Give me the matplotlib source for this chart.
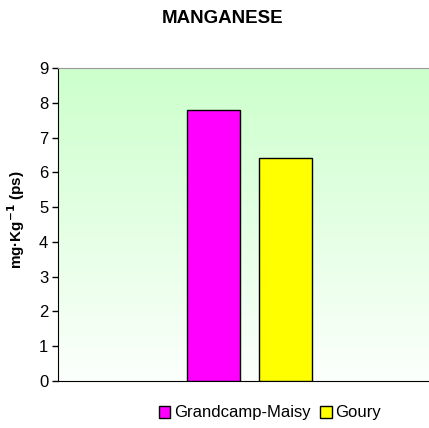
import matplotlib
matplotlib.use("Agg")
import matplotlib.pyplot as plt
import numpy as np
from matplotlib.patches import Patch

title = "MANGANESE"
ylabel = "mg·Kg$^{\\mathbf{-1}}$ (ps)"
series = ["Grandcamp-Maisy", "Goury"]
values = [7.8, 6.4]
colors = ["#FF00FF", "#FFFF00"]
yticks = list(range(0, 10))

plt.rcParams['font.family'] = ['Liberation Sans', 'DejaVu Sans']

W, H = 429, 428
fig = plt.figure(figsize=(W/100, H/100), dpi=100)
ax = fig.add_axes([58/W, (H-381)/H, (429-58)/W, (381-68)/H])

xlim = (-1.277, 1.197)
ylim = (0, 9)
# gradient background
grad = np.linspace(0, 1, 256).reshape(-1, 1)
top = np.array([204, 255, 204]) / 255
bot = np.array([252, 255, 252]) / 255
img = bot + (top - bot) * grad[..., None]
ax.imshow(img, extent=(xlim[0], xlim[1], ylim[0], ylim[1]), origin='lower',
          aspect='auto', zorder=0)

width = 0.35
gap = 0.127
offsets = [-(width + gap) / 2, (width + gap) / 2]
for off, v, c in zip(offsets, values, colors):
    ax.bar(off, v, width=width, color=c, edgecolor='black', linewidth=1, zorder=3)

ax.set_xlim(*xlim)
ax.set_ylim(*ylim)
ax.set_yticks(yticks)
ax.set_xticks([])
ax.tick_params(axis='y', direction='out', length=4, width=1, labelsize=12, pad=3)
ax.spines['right'].set_visible(False)
ax.spines['top'].set_color('#999999')
ax.spines['left'].set_color('black')
ax.spines['bottom'].set_color('black')

ax.set_ylabel(ylabel, fontsize=11, fontweight='bold')
ax.yaxis.set_label_coords((27 - 58) / (429 - 58), (381 - 220) / (381 - 68))
fig.text(223/W, 1 - 18.5/H, title, ha='center', va='center', fontsize=13.5, fontweight='bold')

handles = [Patch(facecolor=c, edgecolor='black', linewidth=1) for c in colors]
fig.legend(handles, series, loc='center', bbox_to_anchor=(270/W, 1 - 413/H), ncol=2,
           frameon=False, fontsize=12, handlelength=0.7, handleheight=0.7,
           handletextpad=0.2, columnspacing=0.6)

fig.savefig("out.png", dpi=100)
